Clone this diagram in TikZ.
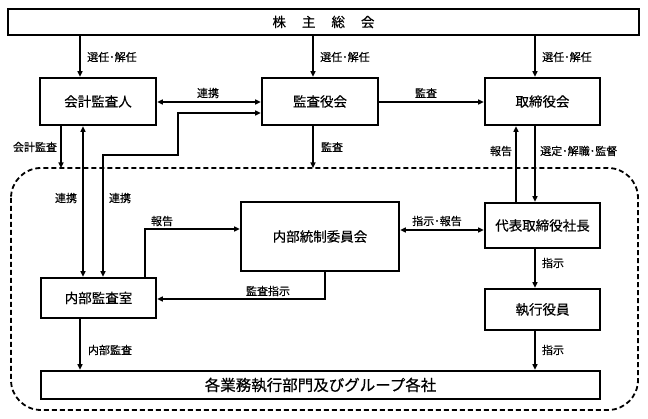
\documentclass[tikz,border=0pt]{standalone}
\usepackage{fontspec}
\newfontfamily\jp[FakeBold=0.4]{Noto Sans CJK JP}
\usetikzlibrary{arrows.meta}
\begin{document}
\begin{tikzpicture}[x=1pt,y=-1pt,
  box/.style={draw, line width=2.6pt, inner sep=0pt, font=\jp\fontsize{13.5}{16}\selectfont},
  lbl/.style={font=\jp\fontsize{11}{13}\selectfont, inner sep=1pt},
  arr/.style={line width=1.3pt, -{Triangle[length=5.5pt,width=5pt]}},
  darr/.style={line width=1.3pt, {Triangle[length=5.5pt,width=5pt]}-{Triangle[length=5.5pt,width=5pt]}},
  group/.style={line width=1.8pt, dash pattern=on 5pt off 3pt, rounded corners=30pt}]
\useasboundingbox (0,0) rectangle (648,419);
\fill[white] (0,0) rectangle (648,419);

% group frame
\draw[group] (11,168) rectangle (638,410);
\coordinate (gA) at (61,168);
\coordinate (gB) at (313,168);

% boxes
\node[box, minimum width=631, minimum height=26] (soukai) at (323.5,22) {株\hspace{16pt}主\hspace{16pt}総\hspace{16pt}会};
\node[box, minimum width=116, minimum height=47] (kaikei) at (98,101.5) {会計監査人};
\node[box, minimum width=116, minimum height=47] (kansa) at (320,101.5) {監査役会};
\node[box, minimum width=115, minimum height=47] (tori) at (542.5,101.5) {取締役会};
\node[box, minimum width=115, minimum height=40] (naibu) at (98.5,298) {内部監査室};
\node[box, minimum width=158, minimum height=69] (touk) at (320,236.5) {内部統制委員会};
\node[box, minimum width=115, minimum height=45] (daihyo) at (542.5,225.5) {代表取締役社長};
\node[box, minimum width=115, minimum height=41] (shikko) at (542.5,309.5) {執行役員};
\node[box, minimum width=559, minimum height=28, font=\jp\fontsize{15.5}{18}\selectfont] (kaku) at (320.5,385) {各業務執行部門及びグループ各社};

% top arrows
\draw[arr] (soukai.south -| 80,0) -- (kaikei.north -| 80,0);
\draw[arr] (soukai.south -| 313,0) -- (kansa.north -| 313,0);
\draw[arr] (soukai.south -| 535,0) -- (tori.north -| 535,0);
\node[lbl, anchor=west] (l1) at (86,57) {選任･解任};
\node[lbl, anchor=west] (l2) at (319,57) {選任･解任};
\node[lbl, anchor=west] (l3) at (541,57) {選任･解任};

% row 2 horizontal
\draw[darr] (kaikei.east |- 0,102) -- (kansa.west |- 0,102);
\node[lbl] (l4) at (208,93) {連携};
\draw[arr] (kansa.east |- 0,102) -- (tori.west |- 0,102);
\node[lbl] (l5) at (426,93) {監査};

% to group frame
\draw[arr] (kaikei.south -| 61,0) -- (gA);
\node[lbl] (l6) at (35,147) {会計監査};
\draw[arr] (kansa.south -| 313,0) -- (gB);
\node[lbl] (l7) at (332,147) {監査};

% kaikei <-> naibu
\draw[darr] (kaikei.south -| 83,0) -- (naibu.north -| 83,0);
\node[lbl] (l8) at (66,198) {連携};
\draw[darr] (naibu.north -| 103,0) -- (103,155) -- (178,155) -- (178,113) -- (kansa.west |- 0,113);
\node[lbl] (l9) at (120,198) {連携};

% tori <-> daihyo
\draw[arr] (daihyo.north -| 516,0) -- (tori.south -| 516,0);
\node[lbl] (l10) at (501,151) {報告};
\draw[arr] (tori.south -| 535,0) -- (daihyo.north -| 535,0);
\node[lbl, anchor=west] (l11) at (539,151) {選定･解職･監督};

% touk <-> daihyo
\draw[darr] (touk.east |- 0,230) -- (daihyo.west |- 0,230);
\node[lbl] (l12) at (437,221) {指示･報告};

% daihyo -> shikko -> kaku
\draw[arr] (daihyo.south -| 535,0) -- (shikko.north -| 535,0);
\node[lbl] (l13) at (553,263) {指示};
\draw[arr] (shikko.south -| 535,0) -- (kaku.north -| 535,0);
\node[lbl] (l14) at (553,350) {指示};

% naibu -> kaku
\draw[arr] (naibu.south -| 80,0) -- (kaku.north -| 80,0);
\node[lbl] (l15) at (110,350) {内部監査};

% naibu -> touk (report)
\draw[arr] (naibu.north -| 145,0) -- (145,229) -- (touk.west |- 0,229);
\node[lbl] (l16) at (162,221) {報告};

% touk -> naibu (audit instruction)
\draw[arr] (touk.south -| 325,0) -- (325,299) -- (naibu.east |- 0,299);
\node[lbl] (l17) at (268,291) {監査指示};
\end{tikzpicture}
\end{document}
